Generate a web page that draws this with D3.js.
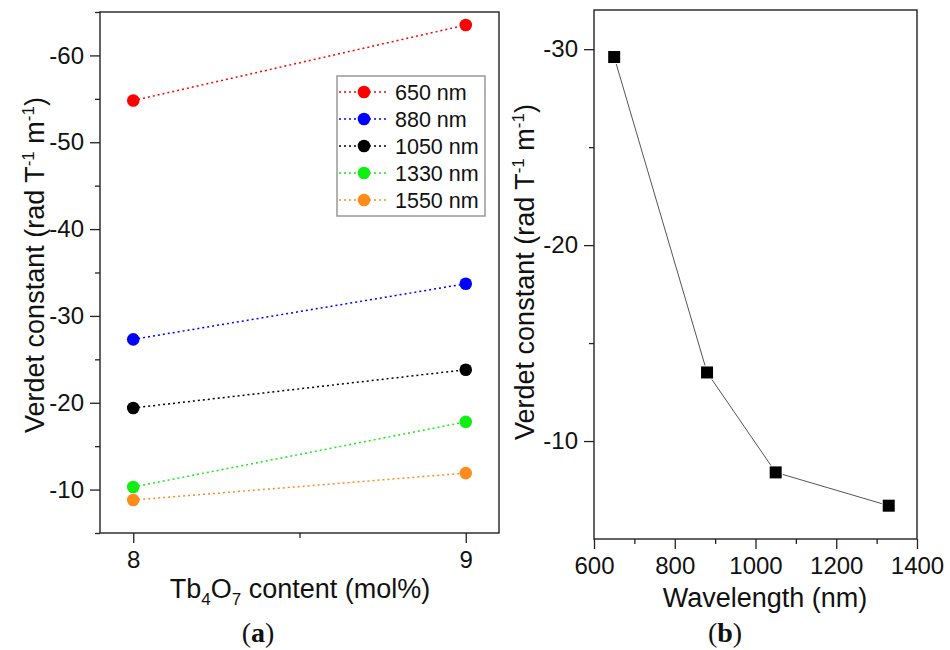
<!DOCTYPE html>
<html><head><meta charset="utf-8">
<script src="https://cdn.jsdelivr.net/npm/d3@7"></script>
<style>
body{margin:0;background:#fff}
text{font-family:"Liberation Sans",Arial,sans-serif;fill:#111}
</style></head>
<body><svg id="c" width="950" height="650"></svg>
<script>
// ---- data ----
const contentX = [8, 9];
const seriesNames = ["650 nm", "880 nm", "1050 nm", "1330 nm", "1550 nm"];
const seriesColors = ["#ff0000", "#0000ff", "#000000", "#11ee11", "#ff8c1a"];
const v650 = [-54.8, -63.5];
const v880 = [-27.3, -33.7];
const v1050 = [-19.4, -23.8];
const v1330 = [-10.3, -17.8];
const v1550 = [-8.8, -11.9];
const seriesValues = [v650, v880, v1050, v1330, v1550];
const yTicksA = [-60, -50, -40, -30, -20, -10];
const yMinorA = [-65, -55, -45, -35, -25, -15, -5];
const xTicksA = [8, 9];
const xMinorA = [8.5];

const wavelengths = [650, 880, 1050, 1330];
const verdetB = [-29.6, -13.5, -8.4, -6.7];
const yTicksB = [-30, -20, -10];
const yMinorB = [-25, -15];
const xTicksB = [600, 800, 1000, 1200, 1400];
const xMinorB = [700, 900, 1100, 1300];

const svg = d3.select("#c");
const TICK_FS = 24, TITLE_FS = 27;

function yTitle(g, x, y) {
  const t = g.append("text").attr("transform", `translate(${x},${y}) rotate(-90)`)
    .attr("text-anchor", "middle").attr("font-size", TITLE_FS);
  t.append("tspan").text("Verdet constant (rad T");
  t.append("tspan").attr("dy", -10).attr("font-size", 17).text("-1");
  t.append("tspan").attr("dy", 10).text(" m");
  t.append("tspan").attr("dy", -10).attr("font-size", 17).text("-1");
  t.append("tspan").attr("dy", 10).text(")");
}

function styleAxis(sel) {
  sel.select(".domain").remove();
  sel.selectAll(".tick line").attr("stroke", "#222").attr("stroke-width", 1.3);
  sel.selectAll(".tick text").attr("font-size", TICK_FS).attr("fill", "#111");
}
const fmt = d => String(d);

// ---- panel (a) ----
const A = {l: 100, r: 499, t: 12, b: 533};
const xA = d3.scaleLinear().domain([7.9, 9.1]).range([A.l, A.r]);
const yA = d3.scaleLinear().domain([-5, -65]).range([A.b, A.t]);
const gA = svg.append("g");

gA.append("g").attr("transform", `translate(${A.l},0)`)
  .call(d3.axisLeft(yA).tickValues(yTicksA).tickSize(10).tickPadding(6).tickFormat(fmt))
  .call(styleAxis);
gA.append("g").attr("transform", `translate(${A.l},0)`)
  .call(d3.axisLeft(yA).tickValues(yMinorA).tickSize(5).tickFormat(""))
  .call(styleAxis);
gA.append("g").attr("transform", `translate(0,${A.b})`)
  .call(d3.axisBottom(xA).tickValues(xTicksA).tickSize(10).tickPadding(8).tickFormat(fmt))
  .call(styleAxis);
gA.append("g").attr("transform", `translate(0,${A.b})`)
  .call(d3.axisBottom(xA).tickValues(xMinorA).tickSize(5).tickFormat(""))
  .call(styleAxis);

gA.append("rect").attr("x", A.l).attr("y", A.t).attr("width", A.r - A.l).attr("height", A.b - A.t)
  .attr("fill", "none").attr("stroke", "#222").attr("stroke-width", 1.4);

const lineA = d3.line().x((d, i) => xA(contentX[i])).y(d => yA(d));
seriesValues.forEach((vals, s) => {
  gA.append("path").datum(vals).attr("d", lineA).attr("fill", "none")
    .attr("stroke", seriesColors[s]).attr("stroke-width", 1.5).attr("stroke-dasharray", "2,3");
  gA.selectAll(null).data(vals).enter().append("circle")
    .attr("cx", (d, i) => xA(contentX[i])).attr("cy", d => yA(d)).attr("r", 6.3)
    .attr("fill", seriesColors[s]);
});

// legend
const lg = gA.append("g");
lg.append("rect").attr("x", 337).attr("y", 76).attr("width", 148).attr("height", 140)
  .attr("fill", "#fff").attr("stroke", "#999").attr("stroke-width", 1.5);
seriesNames.forEach((n, s) => {
  const yy = 92 + s * 27;
  lg.append("line").attr("x1", 339).attr("x2", 388).attr("y1", yy).attr("y2", yy)
    .attr("stroke", seriesColors[s]).attr("stroke-width", 1.5).attr("stroke-dasharray", "2,3");
  lg.append("circle").attr("cx", 364).attr("cy", yy).attr("r", 6.3).attr("fill", seriesColors[s]);
  lg.append("text").attr("x", 395).attr("y", yy + 8).attr("font-size", 21.5).text(n);
});

yTitle(gA, 44, 265);
const tA = gA.append("text").attr("x", 300).attr("y", 598).attr("text-anchor", "middle").attr("font-size", TITLE_FS);
tA.append("tspan").text("Tb");
tA.append("tspan").attr("dy", 7).attr("font-size", 17).text("4");
tA.append("tspan").attr("dy", -7).text("O");
tA.append("tspan").attr("dy", 7).attr("font-size", 17).text("7");
tA.append("tspan").attr("dy", -7).text(" content (mol%)");

function caption(x, letter) {
  const t = svg.append("text").attr("x", x).attr("y", 642).attr("text-anchor", "middle")
    .attr("font-size", 28).style("font-family", '"Liberation Serif","Times New Roman",serif');
  t.append("tspan").text("(");
  t.append("tspan").attr("font-weight", "bold").text(letter);
  t.append("tspan").text(")");
}
caption(258, "a");

// ---- panel (b) ----
const B = {l: 594, r: 917, t: 10, b: 539};
const xB = d3.scaleLinear().domain([600, 1400]).range([B.l, B.r]);
const yB = d3.scaleLinear().domain([-5, -32]).range([B.b, B.t]);
const gB = svg.append("g");

gB.append("g").attr("transform", `translate(${B.l},0)`)
  .call(d3.axisLeft(yB).tickValues(yTicksB).tickSize(10).tickPadding(6).tickFormat(fmt))
  .call(styleAxis);
gB.append("g").attr("transform", `translate(${B.l},0)`)
  .call(d3.axisLeft(yB).tickValues(yMinorB).tickSize(5).tickFormat(""))
  .call(styleAxis);
gB.append("g").attr("transform", `translate(0,${B.b})`)
  .call(d3.axisBottom(xB).tickValues(xTicksB).tickSize(10).tickPadding(8).tickFormat(fmt))
  .call(styleAxis);
gB.append("g").attr("transform", `translate(0,${B.b})`)
  .call(d3.axisBottom(xB).tickValues(xMinorB).tickSize(5).tickFormat(""))
  .call(styleAxis);

gB.append("rect").attr("x", B.l).attr("y", B.t).attr("width", B.r - B.l).attr("height", B.b - B.t)
  .attr("fill", "none").attr("stroke", "#222").attr("stroke-width", 1.4);

const lineB = d3.line().x((d, i) => xB(wavelengths[i])).y(d => yB(d));
gB.append("path").datum(verdetB).attr("d", lineB).attr("fill", "none")
  .attr("stroke", "#555").attr("stroke-width", 1);
gB.selectAll(null).data(verdetB).enter().append("rect")
  .attr("x", (d, i) => xB(wavelengths[i]) - 6).attr("y", d => yB(d) - 6)
  .attr("width", 12).attr("height", 12).attr("fill", "#000")
  .attr("stroke", "#fff").attr("stroke-width", 2).attr("paint-order", "stroke");

yTitle(gB, 534, 272);
gB.append("text").attr("x", 765).attr("y", 607).attr("text-anchor", "middle").attr("font-size", TITLE_FS)
  .text("Wavelength (nm)");
caption(725, "b");
</script></body></html>
